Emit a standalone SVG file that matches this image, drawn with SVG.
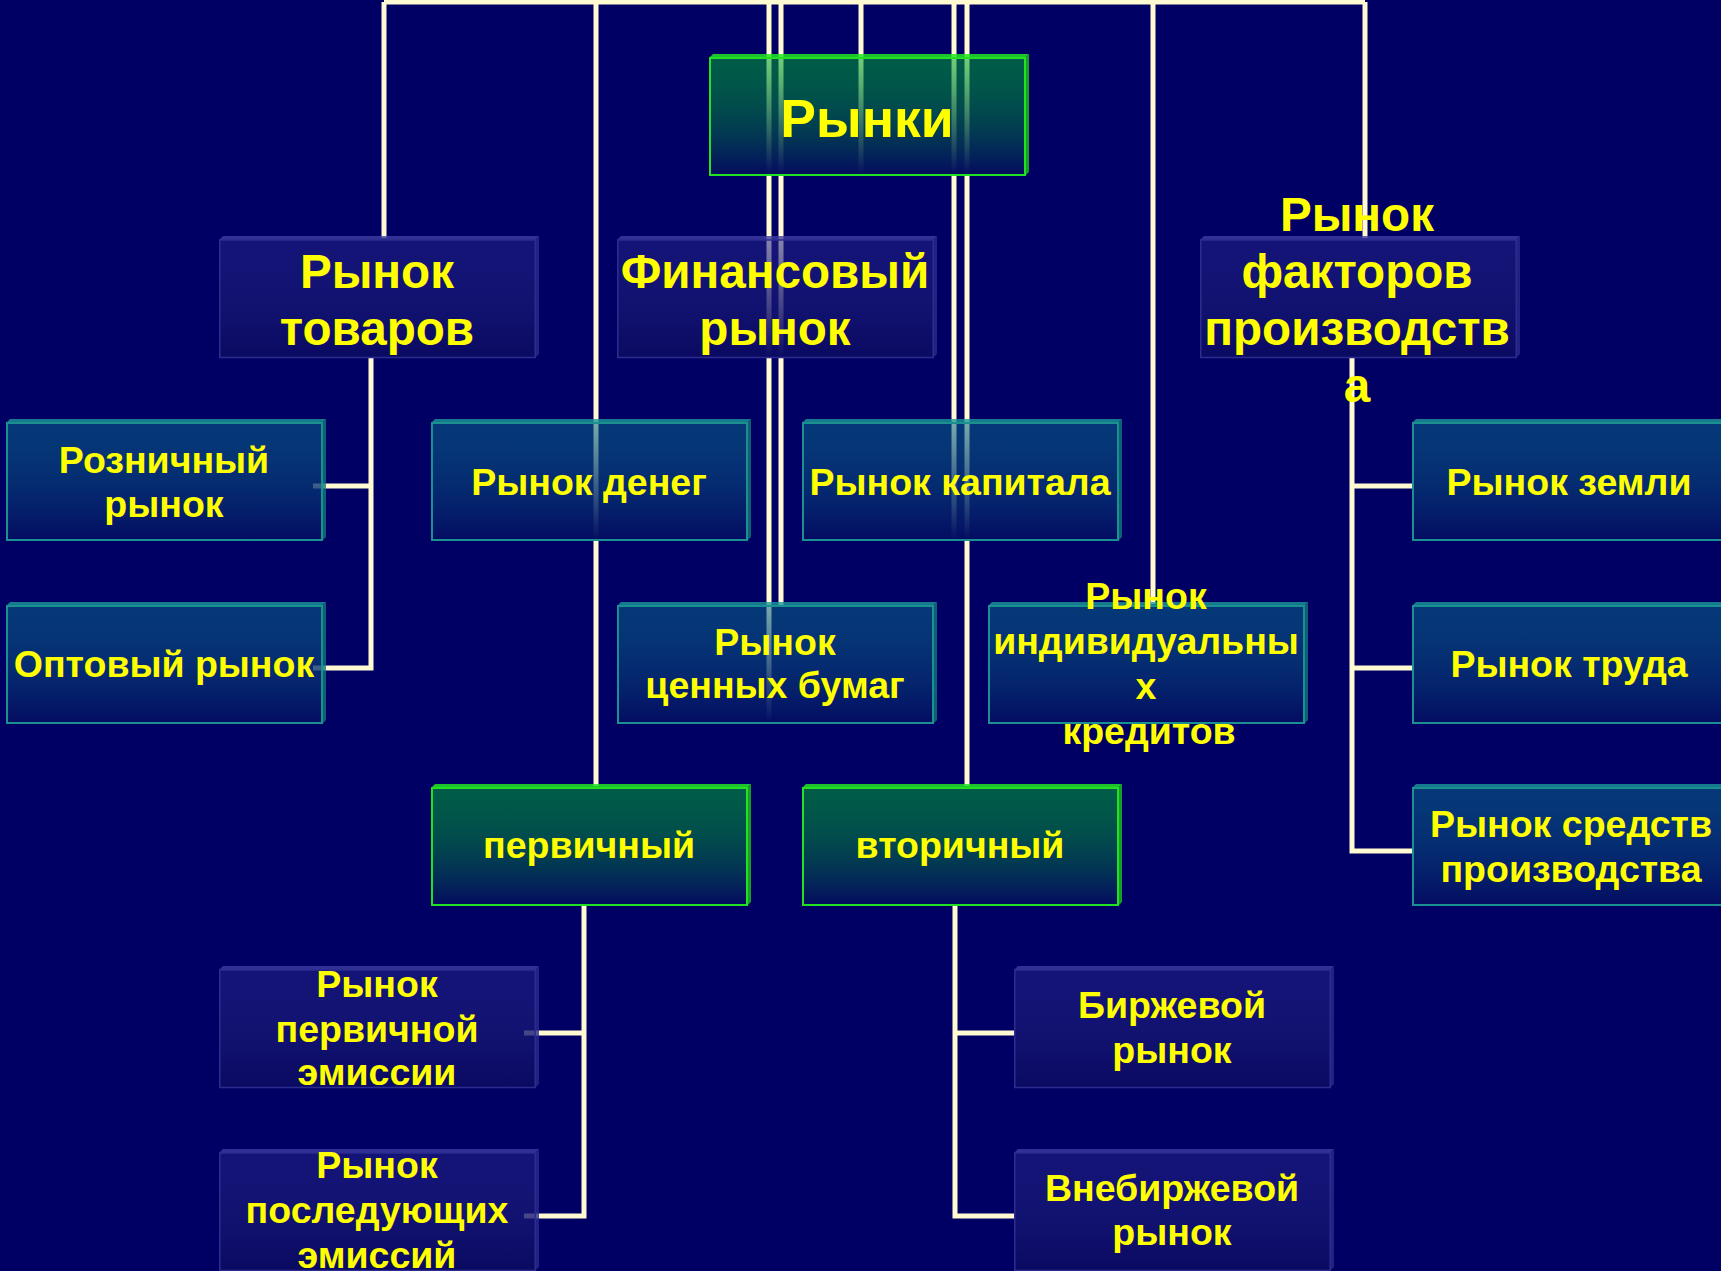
<svg xmlns="http://www.w3.org/2000/svg" xmlns:xlink="http://www.w3.org/1999/xlink" width="1721" height="1271" viewBox="0 0 1721 1271">
<defs>
<style>
.ln{stroke:#fffad2;stroke-width:5;fill:none}
.t{font-family:"Liberation Sans",Arial,sans-serif;font-weight:bold;fill:#ffff00;text-anchor:middle}
.s36{font-size:37.5px}
.s46{font-size:47.6px}
.s52{font-size:53.5px}
</style>
<linearGradient id="gA" x1="0" y1="0" x2="0" y2="1">
<stop offset="0" stop-color="#242488" stop-opacity="0.55"/>
<stop offset="1" stop-color="#0a0a62" stop-opacity="1"/>
</linearGradient>
<linearGradient id="gB" x1="0" y1="0" x2="0" y2="1">
<stop offset="0" stop-color="#096688" stop-opacity="0.55"/>
<stop offset="1" stop-color="#040c62" stop-opacity="1"/>
</linearGradient>
<linearGradient id="gC" x1="0" y1="0" x2="0" y2="1">
<stop offset="0" stop-color="#00a730" stop-opacity="0.55"/>
<stop offset="1" stop-color="#040c60" stop-opacity="1"/>
</linearGradient>
<g id="boxA">
<polygon points="0,4 4,0 320,0 316,4" fill="#3c3ca4" fill-opacity="0.8"/>
<polygon points="316,4 320,0 320,118 316,122" fill="#2a2a8a" fill-opacity="0.8"/>
<rect x="0.75" y="4" width="315.5" height="117.5" fill="url(#gA)" stroke="#2c2c90" stroke-width="1.5"/>
</g>
<g id="boxB">
<polygon points="0,4 4,0 320,0 316,4" fill="#1a9898" fill-opacity="0.8"/>
<polygon points="316,4 320,0 320,118 316,122" fill="#127878" fill-opacity="0.8"/>
<rect x="1" y="4" width="315" height="117" fill="url(#gB)" stroke="#1a9090" stroke-width="2"/>
</g>
<g id="boxC">
<polygon points="0,4 4,0 320,0 316,4" fill="#22e622" fill-opacity="0.85"/>
<polygon points="316,4 320,0 320,118 316,122" fill="#1cb81c" fill-opacity="0.85"/>
<rect x="1" y="4" width="315" height="117" fill="url(#gC)" stroke="#22e022" stroke-width="2"/>
</g>
</defs>
<rect width="1721" height="1271" fill="#000064"/>
<g id="connectors">
<path class="ln" stroke-width="4" d="M384,2 H1365"/>
<path class="ln" d="M384,2 V238"/>
<path class="ln" d="M596,2 V786"/>
<path class="ln" d="M769,2 V720"/>
<path class="ln" d="M781,2 V606"/>
<path class="ln" d="M861,2 V176"/>
<path class="ln" d="M954,2 V540"/>
<path class="ln" d="M967,2 V786"/>
<path class="ln" d="M1153,2 V604"/>
<path class="ln" d="M1365,2 V238"/>
<path class="ln" d="M371,358 V668 H313 M371,486 H313"/>
<path class="ln" d="M1352,358 V851 H1412 M1352,486 H1412 M1352,668 H1412"/>
<path class="ln" d="M584,905 V1216 H524 M584,1033 H524"/>
<path class="ln" d="M955,905 V1216 H1014 M955,1033 H1014"/>
</g>
<g id="n-rynki"><use xlink:href="#boxC" x="709" y="54"/><text class="t s52" x="867" y="137">Рынки</text></g>
<g id="n-tovarov"><use xlink:href="#boxA" x="219" y="236"/><text class="t s46" x="377" y="288">Рынок</text><text class="t s46" x="377" y="345">товаров</text></g>
<g id="n-finans"><use xlink:href="#boxA" x="617" y="236"/><text class="t s46" x="775" y="288">Финансовый</text><text class="t s46" x="775" y="345">рынок</text></g>
<g id="n-faktorov"><use xlink:href="#boxA" x="1200" y="236"/><text class="t s46" x="1357" y="231">Рынок</text><text class="t s46" x="1357" y="288">факторов</text><text class="t s46" x="1357" y="345">производств</text><text class="t s46" x="1357" y="402">а</text></g>
<g id="n-roznichny"><use xlink:href="#boxB" x="6" y="419"/><text class="t s36" x="164" y="473">Розничный</text><text class="t s36" x="164" y="517">рынок</text></g>
<g id="n-deneg"><use xlink:href="#boxB" x="431" y="419"/><text class="t s36" x="589" y="495">Рынок денег</text></g>
<g id="n-kapitala"><use xlink:href="#boxB" x="802" y="419"/><text class="t s36" x="960" y="495">Рынок капитала</text></g>
<g id="n-zemli"><use xlink:href="#boxB" x="1412" y="419"/><text class="t s36" x="1569" y="495">Рынок земли</text></g>
<g id="n-optovy"><use xlink:href="#boxB" x="6" y="602"/><text class="t s36" x="164" y="677">Оптовый рынок</text></g>
<g id="n-cennyh"><use xlink:href="#boxB" x="617" y="602"/><text class="t s36" x="775" y="655">Рынок</text><text class="t s36" x="775" y="698">ценных бумаг</text></g>
<g id="n-individ"><use xlink:href="#boxB" x="988" y="602"/><text class="t s36" x="1146" y="609">Рынок</text><text class="t s36" x="1146" y="654">индивидуальны</text><text class="t s36" x="1146" y="699">х</text><text class="t s36" x="1149" y="744">кредитов</text></g>
<g id="n-truda"><use xlink:href="#boxB" x="1412" y="602"/><text class="t s36" x="1569" y="677">Рынок труда</text></g>
<g id="n-pervichny"><use xlink:href="#boxC" x="431" y="784"/><text class="t s36" x="589" y="858">первичный</text></g>
<g id="n-vtorichny"><use xlink:href="#boxC" x="802" y="784"/><text class="t s36" x="960" y="858">вторичный</text></g>
<g id="n-sredstv"><use xlink:href="#boxB" x="1412" y="784"/><text class="t s36" x="1571" y="837">Рынок средств</text><text class="t s36" x="1571" y="882">производства</text></g>
<g id="n-pervemis"><use xlink:href="#boxA" x="219" y="966"/><text class="t s36" x="377" y="997">Рынок</text><text class="t s36" x="377" y="1042">первичной</text><text class="t s36" x="377" y="1085">эмиссии</text></g>
<g id="n-birzh"><use xlink:href="#boxA" x="1014" y="966"/><text class="t s36" x="1172" y="1018">Биржевой</text><text class="t s36" x="1172" y="1063">рынок</text></g>
<g id="n-posled"><use xlink:href="#boxA" x="219" y="1149"/><text class="t s36" x="377" y="1178">Рынок</text><text class="t s36" x="377" y="1223">последующих</text><text class="t s36" x="377" y="1268">эмиссий</text></g>
<g id="n-vnebirzh"><use xlink:href="#boxA" x="1014" y="1149"/><text class="t s36" x="1172" y="1201">Внебиржевой</text><text class="t s36" x="1172" y="1245">рынок</text></g>
</svg>
